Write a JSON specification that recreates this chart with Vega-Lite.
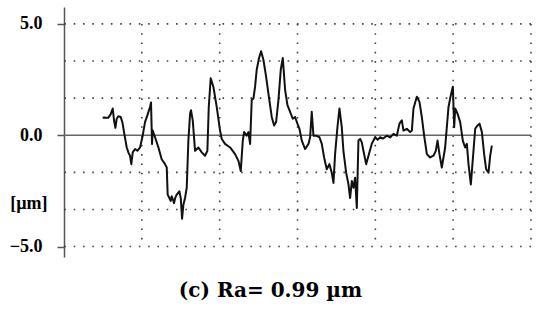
{
  "$schema": "https://vega.github.io/schema/vega-lite/v6.json",
  "autosize": {"type": "none"},
  "width": 467,
  "height": 250,
  "padding": {"left": 64, "top": 7, "right": 19, "bottom": 65},
  "background": "white",
  "config": {"view": {"stroke": null}},
  "title": {
    "text": "(c) Ra= 0.99 µm",
    "orient": "bottom",
    "anchor": "middle",
    "frame": "bounds",
    "font": "DejaVu Serif",
    "fontSize": 20,
    "fontWeight": "bold",
    "color": "#000000",
    "baseline": "alphabetic",
    "offset": 40
  },
  "encoding": {
    "y": {
      "field": "y",
      "type": "quantitative",
      "scale": {"domain": [-5.47, 5.76], "nice": false, "zero": false},
      "axis": {
        "values": [5, 0, -5],
        "labelExpr": "format(datum.value, '.1f')",
        "grid": false,
        "domainColor": "#555555",
        "domainWidth": 1.5,
        "tickColor": "#555555",
        "tickWidth": 1.5,
        "tickSize": 7,
        "labelFont": "Liberation Serif",
        "labelFontSize": 18,
        "labelFontWeight": "bold",
        "labelColor": "#000000",
        "labelPadding": 15,
        "title": "[µm]",
        "titleAngle": 0,
        "titleAlign": "right",
        "titleBaseline": "middle",
        "titleX": -17,
        "titleY": 196,
        "titleFont": "Liberation Serif",
        "titleFontSize": 18,
        "titleFontWeight": "bold",
        "titleColor": "#000000"
      }
    }
  },
  "layer": [
    {
      "data": {"values": [{"y": 5}, {"y": 3.333}, {"y": 1.667}, {"y": -1.667}, {"y": -3.333}, {"y": -5}]},
      "mark": {"type": "rule", "color": "#444444", "strokeWidth": 1.6, "strokeDash": [1.6, 7.7]}
    },
    {
      "data": {"values": [{"gx": 1, "y": 5, "y2": -5}, {"gx": 2, "y": 5, "y2": -5}, {"gx": 3, "y": 5, "y2": -5}, {"gx": 4, "y": 5, "y2": -5}, {"gx": 5, "y": 5, "y2": -5}, {"gx": 6, "y": 5, "y2": -5}]},
      "mark": {"type": "rule", "color": "#444444", "strokeWidth": 1.6, "strokeDash": [1.6, 7.7]},
      "encoding": {
        "x": {"field": "gx", "type": "quantitative", "scale": {"domain": [0, 6], "nice": false, "zero": false}, "axis": null},
        "y2": {"field": "y2"}
      }
    },
    {
      "data": {"values": [{"y": 0}]},
      "mark": {"type": "rule", "color": "#666666", "strokeWidth": 1.6}
    },
    {
      "data": {"values": [
        {"x": 0.497, "y": 0.79}, {"x": 0.52, "y": 0.8}, {"x": 0.545, "y": 0.78}, {"x": 0.57, "y": 0.79},
        {"x": 0.6, "y": 0.95}, {"x": 0.626, "y": 1.2}, {"x": 0.643, "y": 0.67}, {"x": 0.66, "y": 0.33},
        {"x": 0.677, "y": 0.74}, {"x": 0.698, "y": 0.85}, {"x": 0.728, "y": 0.82}, {"x": 0.75, "y": 0.59},
        {"x": 0.775, "y": 0.06}, {"x": 0.806, "y": -0.55}, {"x": 0.827, "y": -0.77}, {"x": 0.848, "y": -0.92},
        {"x": 0.865, "y": -1.3}, {"x": 0.883, "y": -0.77}, {"x": 0.913, "y": -0.62}, {"x": 0.943, "y": -0.7},
        {"x": 0.977, "y": -0.55}, {"x": 1.011, "y": -0.02}, {"x": 1.041, "y": 0.59}, {"x": 1.071, "y": 0.89},
        {"x": 1.105, "y": 1.27}, {"x": 1.118, "y": 1.47}, {"x": 1.131, "y": -0.39}, {"x": 1.14, "y": 0.21},
        {"x": 1.17, "y": -0.09}, {"x": 1.213, "y": -0.55}, {"x": 1.255, "y": -1.08}, {"x": 1.298, "y": -1.3},
        {"x": 1.32, "y": -1.45}, {"x": 1.332, "y": -2.67}, {"x": 1.354, "y": -2.82}, {"x": 1.37, "y": -2.95},
        {"x": 1.384, "y": -2.74}, {"x": 1.4, "y": -2.9}, {"x": 1.414, "y": -3.05}, {"x": 1.43, "y": -2.8},
        {"x": 1.448, "y": -2.67}, {"x": 1.482, "y": -2.52}, {"x": 1.5, "y": -2.82}, {"x": 1.517, "y": -3.75},
        {"x": 1.534, "y": -3.12}, {"x": 1.555, "y": -2.82}, {"x": 1.577, "y": -2.36}, {"x": 1.598, "y": -0.24},
        {"x": 1.62, "y": 0.97}, {"x": 1.632, "y": 1.12}, {"x": 1.654, "y": 0.67}, {"x": 1.684, "y": -0.7},
        {"x": 1.727, "y": -0.55}, {"x": 1.77, "y": -0.77}, {"x": 1.812, "y": -0.92}, {"x": 1.842, "y": -0.7},
        {"x": 1.86, "y": 1.27}, {"x": 1.885, "y": 2.56}, {"x": 1.919, "y": 2.18}, {"x": 1.962, "y": 1.27},
        {"x": 2.005, "y": 0.21}, {"x": 2.027, "y": -0.17}, {"x": 2.069, "y": -0.39}, {"x": 2.134, "y": -0.55},
        {"x": 2.198, "y": -0.85}, {"x": 2.241, "y": -1.15}, {"x": 2.271, "y": -1.61}, {"x": 2.297, "y": -0.24},
        {"x": 2.314, "y": 0.14}, {"x": 2.348, "y": -0.02}, {"x": 2.369, "y": 0.14}, {"x": 2.391, "y": -0.39},
        {"x": 2.412, "y": 1.58}, {"x": 2.434, "y": 1.65}, {"x": 2.455, "y": 2.18}, {"x": 2.476, "y": 2.94},
        {"x": 2.506, "y": 3.47}, {"x": 2.532, "y": 3.77}, {"x": 2.562, "y": 3.39}, {"x": 2.596, "y": 2.64},
        {"x": 2.626, "y": 1.88}, {"x": 2.669, "y": 0.82}, {"x": 2.699, "y": 0.44}, {"x": 2.725, "y": 0.59},
        {"x": 2.755, "y": 1.58}, {"x": 2.785, "y": 2.94}, {"x": 2.811, "y": 3.47}, {"x": 2.841, "y": 2.03},
        {"x": 2.871, "y": 1.35}, {"x": 2.905, "y": 1.05}, {"x": 2.939, "y": 0.74}, {"x": 2.969, "y": 0.82},
        {"x": 2.999, "y": 0.52}, {"x": 3.025, "y": 0.29}, {"x": 3.055, "y": -0.24}, {"x": 3.098, "y": -0.62},
        {"x": 3.141, "y": -0.39}, {"x": 3.162, "y": -0.09}, {"x": 3.183, "y": 1.05}, {"x": 3.205, "y": -0.02},
        {"x": 3.239, "y": -0.02}, {"x": 3.282, "y": -0.09}, {"x": 3.312, "y": -0.39}, {"x": 3.342, "y": -1.0},
        {"x": 3.376, "y": -1.53}, {"x": 3.41, "y": -1.3}, {"x": 3.44, "y": -1.68}, {"x": 3.462, "y": -2.14},
        {"x": 3.483, "y": -0.85}, {"x": 3.513, "y": 0.36}, {"x": 3.539, "y": 1.2}, {"x": 3.569, "y": 0.36},
        {"x": 3.59, "y": -0.7}, {"x": 3.625, "y": -1.68}, {"x": 3.655, "y": -2.21}, {"x": 3.676, "y": -2.82},
        {"x": 3.698, "y": -2.06}, {"x": 3.719, "y": -2.36}, {"x": 3.74, "y": -1.91}, {"x": 3.762, "y": -3.27},
        {"x": 3.783, "y": -0.24}, {"x": 3.805, "y": -0.17}, {"x": 3.826, "y": -0.32}, {"x": 3.847, "y": -0.7},
        {"x": 3.882, "y": -1.3}, {"x": 3.912, "y": -0.92}, {"x": 3.954, "y": -0.39}, {"x": 3.997, "y": -0.09},
        {"x": 4.03, "y": -0.2}, {"x": 4.062, "y": -0.09}, {"x": 4.1, "y": -0.15}, {"x": 4.147, "y": -0.02},
        {"x": 4.19, "y": -0.1}, {"x": 4.233, "y": 0.06}, {"x": 4.276, "y": -0.02}, {"x": 4.31, "y": 0.52},
        {"x": 4.34, "y": 0.67}, {"x": 4.362, "y": 0.21}, {"x": 4.405, "y": 0.29}, {"x": 4.447, "y": 0.14},
        {"x": 4.469, "y": 0.21}, {"x": 4.49, "y": 1.2}, {"x": 4.533, "y": 1.73}, {"x": 4.567, "y": 1.5},
        {"x": 4.597, "y": 0.82}, {"x": 4.627, "y": -0.02}, {"x": 4.662, "y": -0.85}, {"x": 4.704, "y": -1.0},
        {"x": 4.747, "y": -0.92}, {"x": 4.777, "y": -0.7}, {"x": 4.799, "y": -0.24}, {"x": 4.824, "y": -0.85},
        {"x": 4.854, "y": -1.45}, {"x": 4.897, "y": -0.55}, {"x": 4.94, "y": 1.27}, {"x": 4.97, "y": 1.8},
        {"x": 4.996, "y": 2.18}, {"x": 5.013, "y": 0.36}, {"x": 5.026, "y": 1.2}, {"x": 5.056, "y": 0.97},
        {"x": 5.09, "y": 0.59}, {"x": 5.124, "y": -0.24}, {"x": 5.154, "y": -0.55}, {"x": 5.176, "y": -0.39},
        {"x": 5.197, "y": -1.3}, {"x": 5.227, "y": -2.21}, {"x": 5.261, "y": -0.7}, {"x": 5.283, "y": 0.29},
        {"x": 5.313, "y": 0.44}, {"x": 5.339, "y": 0.52}, {"x": 5.369, "y": 0.14}, {"x": 5.398, "y": -0.85},
        {"x": 5.424, "y": -1.53}, {"x": 5.454, "y": -1.68}, {"x": 5.476, "y": -0.92}, {"x": 5.497, "y": -0.47}
      ]},
      "mark": {"type": "line", "color": "#111111", "strokeWidth": 2, "strokeJoin": "round"},
      "encoding": {
        "x": {"field": "x", "type": "quantitative", "scale": {"domain": [0, 6], "nice": false, "zero": false}, "axis": null}
      }
    }
  ]
}
